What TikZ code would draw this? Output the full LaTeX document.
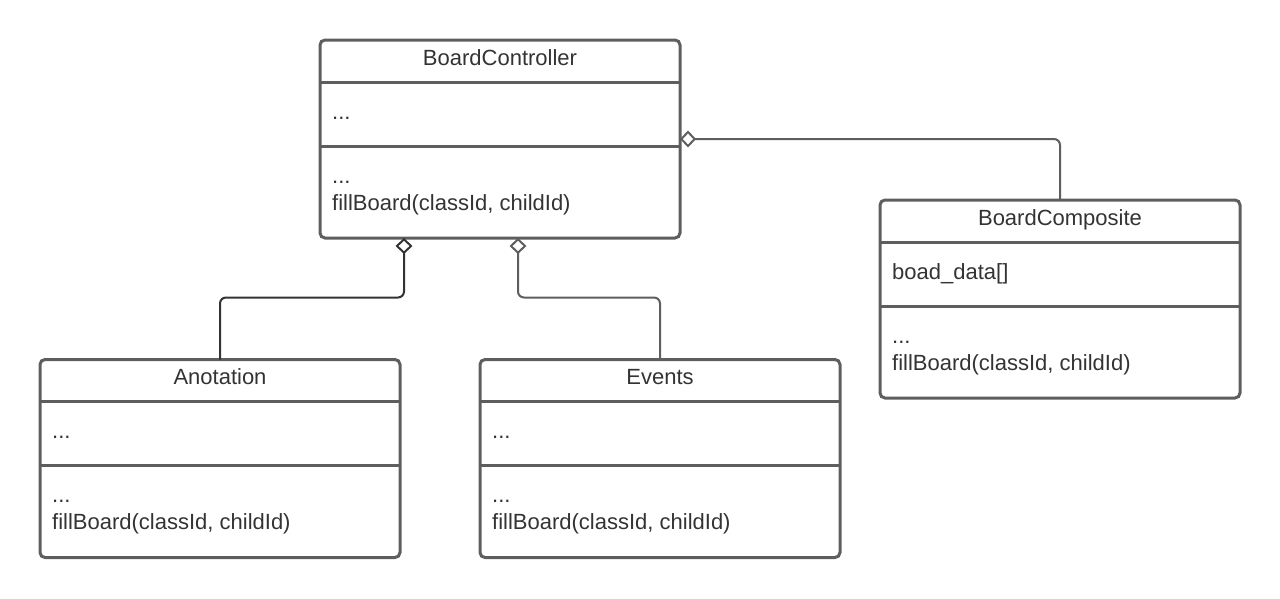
\documentclass[tikz,border=0pt]{standalone}
\usepackage{fontspec}
\setmainfont{Liberation Sans}
\usepackage{tikz}
\usetikzlibrary{arrows.meta,calc}
\definecolor{boxgray}{HTML}{5E5E5E}
\definecolor{textgray}{HTML}{333333}
\tikzstyle{classbox} = [draw=boxgray, line width=3pt, rectangle, rounded corners=5pt, minimum width=360pt, minimum height=198pt, outer sep=0pt]
\tikzstyle{divider} = [draw=boxgray, line width=3pt]
\tikzstyle{title} = [inner sep=0pt, text=textgray, font=\fontsize{22}{27}\selectfont]
\tikzstyle{member} = [inner sep=0pt, anchor=base west, text=textgray, font=\fontsize{22}{27}\selectfont]
\tikzstyle{aggr} = [draw=boxgray, line width=2pt, rounded corners=6pt, -{Diamond[open, length=16pt, width=17pt, line width=2pt]}]
\newcommand{\umlclass}[4]{%
  \node[classbox] (#1) at (#2) {};
  \draw[divider] ($(#1.north west)+(0,42)$) -- ($(#1.north east)+(0,42)$);
  \draw[divider] ($(#1.north west)+(0,106)$) -- ($(#1.north east)+(0,106)$);
  \node[title, anchor=base] (#1-title) at ($(#1.north)+(0,25)$) {#3};
  \node[member] (#1-attr) at ($(#1.north west)+(12,79)$) {#4};
  \node[member] (#1-dots) at ($(#1.north west)+(12,143)$) {...};
  \node[member] (#1-op) at ($(#1.north west)+(12,170)$) {fillBoard(classId, childId)};
}

\begin{document}
\begin{tikzpicture}[x=1pt, y=-1pt]
        \useasboundingbox (0,0) rectangle (1280,598);
        \umlclass{ctrl}{500,139}{BoardController}{...}
        \umlclass{anot}{220,458.5}{Anotation}{...}
        \umlclass{evts}{660,458.5}{Events}{...}
        \umlclass{comp}{1060,299}{BoardComposite}{boad\_data[]}
        \path[aggr, draw=textgray] (anot.north) -- ++(0,-62) -| ($(ctrl.south)+(-96,0)$);
        \path[aggr] (evts.north) -- ++(0,-62) -| ($(ctrl.south)+(18,0)$);
        \path[aggr] (comp.north) |- (ctrl.east);
    \end{tikzpicture}
\end{document}
